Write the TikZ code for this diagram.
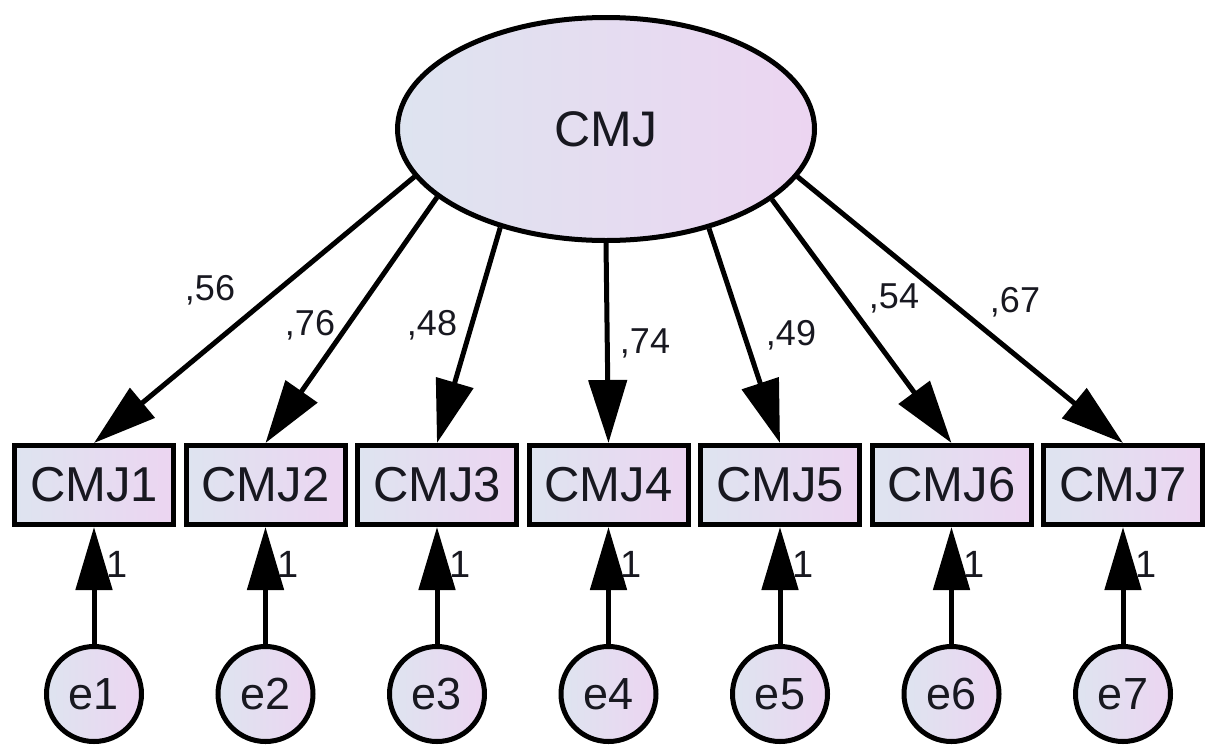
\documentclass[tikz,border=0pt]{standalone}
\usepackage{fontspec}
\setmainfont{Liberation Sans}
\usepackage{tikz}
\usetikzlibrary{arrows.meta,shapes.geometric,positioning}
\usepackage{xcolor}
\definecolor{semleft}{RGB}{222,228,240}
\definecolor{semright}{RGB}{236,213,241}
\definecolor{semtext}{RGB}{24,24,32}
\tikzstyle{load} = [line width=5pt,-{Triangle[length=63pt,width=38pt]},color=black]
\tikzstyle{fixed} = [line width=5pt,-{Triangle[length=63pt,width=36pt]},color=black]

\begin{document}
\begin{tikzpicture}[
    x=1pt, y=-1pt,
    every node/.style={text=semtext},
    latent/.style={ellipse, draw, line width=5pt, left color=semleft, right color=semright, minimum width=417pt, minimum height=223pt, inner sep=0pt, font=\fontsize{50}{60}\selectfont},
    item/.style={rectangle, draw, line width=5pt, left color=semleft, right color=semright, minimum width=159pt, minimum height=79pt, inner sep=0pt, font=\fontsize{49}{58}\selectfont},
    resid/.style={circle, draw, line width=5pt, left color=semleft, right color=semright, minimum size=95pt, inner sep=0pt, font=\fontsize{45}{54}\selectfont},
    coef/.style={anchor=base, inner sep=0pt, font=\fontsize{36}{43}\selectfont},
    one/.style={anchor=base, inner sep=0pt, font=\fontsize{38}{45}\selectfont}
]
\useasboundingbox (0,0) rectangle (1210,745);

% Latent factor
\node[latent] (cmj) at (606,129) {CMJ};

% Observed items
\node[item] (cmj1) at (94,485) {CMJ1};
\node[item] (cmj2) at (265.5,485) {CMJ2};
\node[item] (cmj3) at (437,485) {CMJ3};
\node[item] (cmj4) at (608.5,485) {CMJ4};
\node[item] (cmj5) at (780,485) {CMJ5};
\node[item] (cmj6) at (951.5,485) {CMJ6};
\node[item] (cmj7) at (1123,485) {CMJ7};

% Error terms
\node[resid] (e1) at (94,694) {e1};
\node[resid] (e2) at (265.5,694) {e2};
\node[resid] (e3) at (437,694) {e3};
\node[resid] (e4) at (608.5,694) {e4};
\node[resid] (e5) at (780,694) {e5};
\node[resid] (e6) at (951.5,694) {e6};
\node[resid] (e7) at (1123,694) {e7};

% Loadings
\draw[load] (cmj.194) -- (cmj1.north);
\draw[load] (cmj.202.5) -- (cmj2.north);
\draw[load] (cmj.223.5) -- (cmj3.north);
\draw[load] (cmj.270) -- (cmj4.north);
\draw[load] (cmj.316.5) -- (cmj5.north);
\draw[load] (cmj.337.5) -- (cmj6.north);
\draw[load] (cmj.346) -- (cmj7.north);

\node[coef] (w1) at (210,300) {,56};
\node[coef] (w2) at (310,335) {,76};
\node[coef] (w3) at (432,335) {,48};
\node[coef] (w4) at (645,353) {,74};
\node[coef] (w5) at (791,345) {,49};
\node[coef] (w6) at (894,308) {,54};
\node[coef] (w7) at (1015,312) {,67};

% Error paths
\draw[fixed] (e1) -- (cmj1);
\draw[fixed] (e2) -- (cmj2);
\draw[fixed] (e3) -- (cmj3);
\draw[fixed] (e4) -- (cmj4);
\draw[fixed] (e5) -- (cmj5);
\draw[fixed] (e6) -- (cmj6);
\draw[fixed] (e7) -- (cmj7);

\node[one] (f1) at (117,577) {1};
\node[one] (f2) at (288.5,577) {1};
\node[one] (f3) at (460,577) {1};
\node[one] (f4) at (631.5,577) {1};
\node[one] (f5) at (803,577) {1};
\node[one] (f6) at (974.5,577) {1};
\node[one] (f7) at (1146,577) {1};

\end{tikzpicture}
\end{document}
